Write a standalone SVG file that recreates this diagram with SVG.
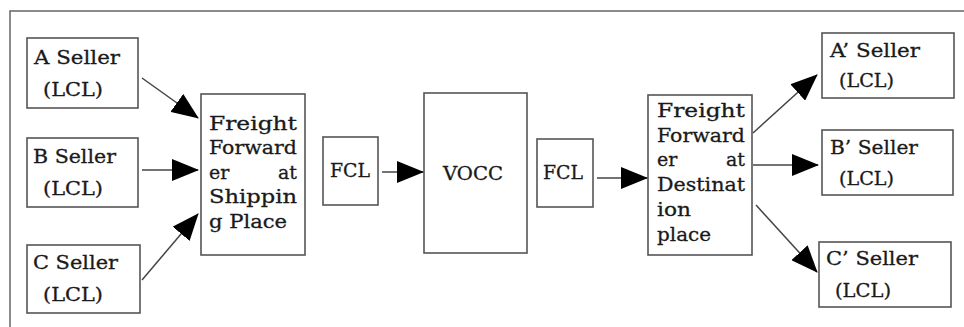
<svg xmlns="http://www.w3.org/2000/svg" width="964" height="327" viewBox="0 0 964 327">
<defs>
<style>
.box{fill:#fff;stroke:#555;stroke-width:1.6}
.t{font-family:"DejaVu Serif","Liberation Serif",serif;font-size:19px;fill:#1a1a1a;stroke:#1a1a1a;stroke-width:0.3}
.e{text-anchor:end}
.c{stroke:#444;stroke-width:1.5;fill:none;marker-end:url(#ah)}
</style>
<marker id="ah" markerUnits="userSpaceOnUse" markerWidth="27" markerHeight="22" refX="26" refY="11" orient="auto">
<path d="M0,0 L27,11 L0,22 Z" fill="#000"/>
</marker>
</defs>
<rect width="964" height="327" fill="#fff"/>
<path d="M10,327 V11 H964" fill="none" stroke="#666" stroke-width="1.5"/>

<g id="a-seller"><rect class="box" x="27" y="38" width="111" height="70"/>
<text class="t" x="34" y="64" textLength="86" lengthAdjust="spacingAndGlyphs">A Seller</text>
<text class="t" x="43" y="96" textLength="60" lengthAdjust="spacingAndGlyphs">(LCL)</text></g>

<g id="b-seller"><rect class="box" x="27" y="138" width="111" height="69"/>
<text class="t" x="33" y="163" textLength="83" lengthAdjust="spacingAndGlyphs">B Seller</text>
<text class="t" x="43" y="195" textLength="60" lengthAdjust="spacingAndGlyphs">(LCL)</text></g>

<g id="c-seller"><rect class="box" x="27" y="245" width="113" height="68"/>
<text class="t" x="33" y="269" textLength="85" lengthAdjust="spacingAndGlyphs">C Seller</text>
<text class="t" x="43" y="301" textLength="60" lengthAdjust="spacingAndGlyphs">(LCL)</text></g>

<g id="ff-shipping"><rect class="box" x="201" y="94" width="104" height="161"/>
<text class="t" x="209" y="130" textLength="88" lengthAdjust="spacingAndGlyphs">Freight</text>
<text class="t" x="209" y="154" textLength="88" lengthAdjust="spacingAndGlyphs">Forward</text>
<text class="t" x="209" y="179">er</text>
<text class="t e" x="297" y="179">at</text>
<text class="t" x="209" y="203" textLength="88" lengthAdjust="spacingAndGlyphs">Shippin</text>
<text class="t" x="209" y="228" textLength="78" lengthAdjust="spacingAndGlyphs">g Place</text></g>

<g id="fcl-1"><rect class="box" x="323" y="137" width="55" height="68"/>
<text class="t" x="330" y="177" textLength="40" lengthAdjust="spacingAndGlyphs">FCL</text></g>

<g id="vocc"><rect class="box" x="424" y="93" width="103" height="160"/>
<text class="t" x="443" y="180" textLength="60" lengthAdjust="spacingAndGlyphs">VOCC</text></g>

<g id="fcl-2"><rect class="box" x="537" y="139" width="56" height="68"/>
<text class="t" x="543" y="179" textLength="40" lengthAdjust="spacingAndGlyphs">FCL</text></g>

<g id="ff-destination"><rect class="box" x="648" y="95" width="104" height="160"/>
<text class="t" x="657" y="117" textLength="88" lengthAdjust="spacingAndGlyphs">Freight</text>
<text class="t" x="657" y="142" textLength="88" lengthAdjust="spacingAndGlyphs">Forward</text>
<text class="t" x="657" y="166">er</text>
<text class="t e" x="745" y="166">at</text>
<text class="t" x="657" y="191" textLength="88" lengthAdjust="spacingAndGlyphs">Destinat</text>
<text class="t" x="657" y="216" textLength="34" lengthAdjust="spacingAndGlyphs">ion</text>
<text class="t" x="657" y="241" textLength="54" lengthAdjust="spacingAndGlyphs">place</text></g>

<g id="a2-seller"><rect class="box" x="822" y="33" width="132" height="65"/>
<text class="t" x="830" y="57" textLength="90" lengthAdjust="spacingAndGlyphs">A’ Seller</text>
<text class="t" x="839" y="87" textLength="55" lengthAdjust="spacingAndGlyphs">(LCL)</text></g>

<g id="b2-seller"><rect class="box" x="822" y="130" width="131" height="65"/>
<text class="t" x="830" y="154" textLength="88" lengthAdjust="spacingAndGlyphs">B’ Seller</text>
<text class="t" x="839" y="185" textLength="55" lengthAdjust="spacingAndGlyphs">(LCL)</text></g>

<g id="c2-seller"><rect class="box" x="819" y="242" width="132" height="65"/>
<text class="t" x="826" y="265" textLength="92" lengthAdjust="spacingAndGlyphs">C’ Seller</text>
<text class="t" x="835" y="297" textLength="56" lengthAdjust="spacingAndGlyphs">(LCL)</text></g>

<g id="connectors">
<line class="c" x1="142" y1="78" x2="198" y2="118"/>
<line class="c" x1="142" y1="170" x2="198" y2="170"/>
<line class="c" x1="142" y1="280" x2="198" y2="214"/>
<line class="c" x1="382" y1="172" x2="423" y2="172"/>
<line class="c" x1="597" y1="178" x2="647" y2="178"/>
<line class="c" x1="753" y1="133" x2="817" y2="75"/>
<line class="c" x1="753" y1="165" x2="818" y2="165"/>
<line class="c" x1="756" y1="205" x2="817" y2="272"/>
</g>
</svg>
